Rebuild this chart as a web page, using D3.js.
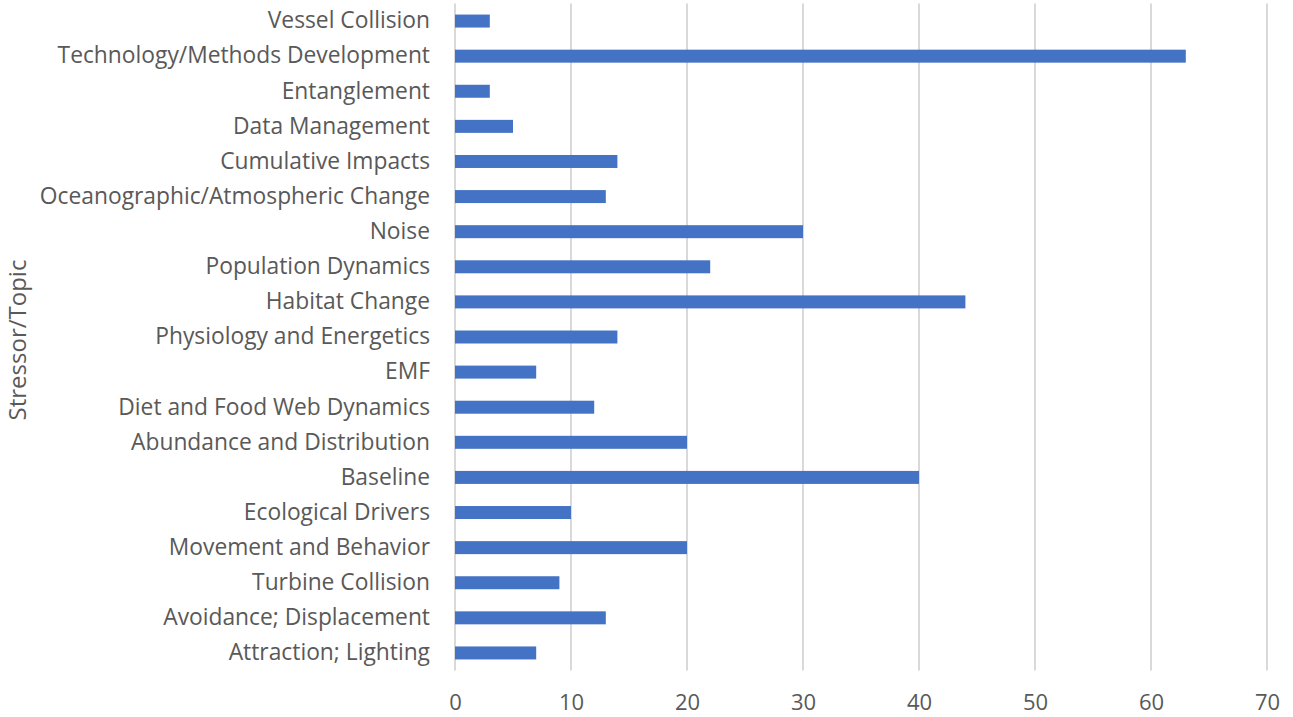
<!DOCTYPE html>
<html lang="en">
<head>
    <meta charset="UTF-8">
    <title>Stressor/Topic</title>
    <script src="https://d3js.org/d3.v7.min.js"></script>
    <style>
        body { margin: 0; background: #fff; }
        text { font-family: "Open Sans", sans-serif; fill: #595959; }
    </style>
</head>
<body>
<svg width="1293" height="717"></svg>
<script>
    // categories top to bottom, as in the picture
    var topics = ["Vessel Collision", "Technology/Methods Development", "Entanglement",
        "Data Management", "Cumulative Impacts", "Oceanographic/Atmospheric Change",
        "Noise", "Population Dynamics", "Habitat Change", "Physiology and Energetics",
        "EMF", "Diet and Food Web Dynamics", "Abundance and Distribution", "Baseline",
        "Ecological Drivers", "Movement and Behavior", "Turbine Collision",
        "Avoidance; Displacement", "Attraction; Lighting"];
    var counts = [3, 63, 3, 5, 14, 13, 30, 22, 44, 14, 7, 12, 20, 40, 10, 20, 9, 13, 7];
    var xTicks = [0, 10, 20, 30, 40, 50, 60, 70];

    var svg = d3.select("svg");
    var plotLeft = 455, plotRight = 1267, plotTop = 3.5, plotBottom = 670.5;

    var x = d3.scaleLinear().domain([0, 70]).range([plotLeft, plotRight]);
    var y = d3.scaleBand().domain(topics).range([plotTop, plotBottom]).paddingInner(0.63).paddingOuter(0.315);

    // vertical gridlines
    svg.selectAll("line.grid")
        .data(xTicks)
        .enter()
        .append("line")
        .attr("class", "grid")
        .attr("x1", function (d) { return x(d); })
        .attr("x2", function (d) { return x(d); })
        .attr("y1", plotTop)
        .attr("y2", plotBottom)
        .attr("stroke", "#d9d9d9")
        .attr("stroke-width", 2);

    svg.selectAll("rect")
        .data(counts)
        .enter()
        .append("rect")
        .attr("x", x(0))
        .attr("y", function (d, i) { return y(topics[i]); })
        .attr("width", function (d) { return x(d) - x(0); })
        .attr("height", y.bandwidth())
        .attr("fill", "#4472c4");

    // x axis labels
    var xAxis = d3.axisBottom(x).tickValues(xTicks).tickSize(0).tickPadding(0);
    var gx = svg.append("g").attr("transform", "translate(0," + 702 + ")").call(xAxis);
    gx.select(".domain").remove();
    gx.selectAll("text").attr("font-size", 22).attr("dy", "0.35em").attr("y", 0);

    // category labels
    var yAxis = d3.axisLeft(y).tickSize(0).tickPadding(0);
    var gy = svg.append("g").attr("transform", "translate(430,0)").call(yAxis);
    gy.select(".domain").remove();
    gy.selectAll("text").attr("font-size", 22.8);

    svg.append("text")
        .attr("transform", "translate(18,340) rotate(-90)")
        .attr("text-anchor", "middle")
        .attr("dy", "0.35em")
        .attr("font-size", 24)
        .text("Stressor/Topic");
</script>
</body>
</html>
